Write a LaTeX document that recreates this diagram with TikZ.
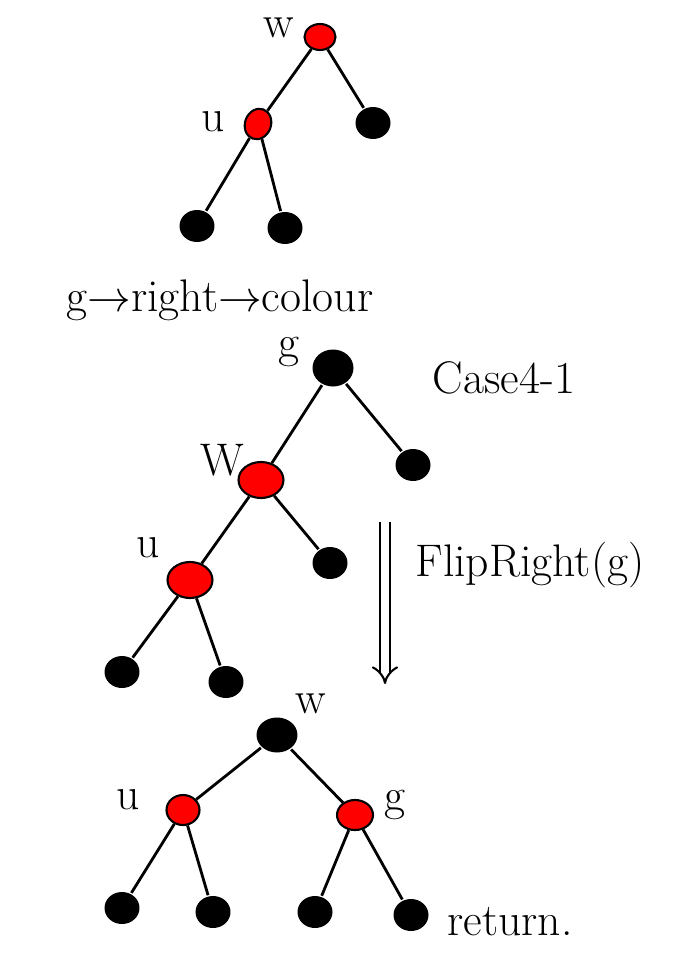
\documentclass[tikz,border=0pt]{standalone}
\usetikzlibrary{shapes.geometric,arrows.meta}

\tikzset{
  rednode/.style={ellipse, draw=black, line width=1.2pt, fill=red, inner sep=0pt,
    minimum width=0.62cm, minimum height=0.52cm},
  bigred/.style={rednode, minimum width=0.9cm, minimum height=0.72cm},
  leaf/.style={ellipse, fill=black, inner sep=0pt,
    minimum width=0.7cm, minimum height=0.64cm},
  lbl/.style={font=\fontsize{26}{30}\selectfont},
}

\begin{document}
\begin{tikzpicture}[x=0.02cm, y=-0.02cm, line width=1.6pt]
\useasboundingbox (0,0) rectangle (679,960);

% first tree
\node[rednode] (w1) at (320,37) {};
\node[rednode, rotate=70] (u1) at (258,124) {};
\node[leaf] (l1) at (373,123) {};
\node[leaf] (l2) at (197,226) {};
\node[leaf] (l3) at (285,228) {};
\node[lbl] (tw1) at (279,28) {w};
\node[lbl] (tu1) at (213,122) {u};

\draw (w1) -- (u1);
\draw (w1) -- (l1);
\draw (u1) -- (l2);
\draw (u1) -- (l3);

\node[lbl] (cond) at (220,300) {g$\to$right$\to$colour};

% second tree
\node[leaf, minimum width=0.82cm, minimum height=0.74cm] (g2) at (333,368) {};
\node[bigred] (w2) at (261,480) {};
\node[bigred] (u2) at (190,580) {};
\node[leaf] (l4) at (413,465) {};
\node[leaf] (l5) at (330,563) {};
\node[leaf] (l6) at (122,672) {};
\node[leaf] (l7) at (226,682) {};
\node[lbl] (tg2) at (289,352) {g};
\node[lbl] (tw2) at (222,460) {W};
\node[lbl] (tu2) at (148,548) {u};
\node[lbl] (case) at (504,378) {Case4-1};

\draw (g2) -- (w2);
\draw (g2) -- (l4);
\draw (w2) -- (u2);
\draw (w2) -- (l5);
\draw (u2) -- (l6);
\draw (u2) -- (l7);

% flip step
\coordinate (fa) at (385,522);
\coordinate (fb) at (385,684);
\draw[double, double distance=4pt, line width=1.2pt, -{Implies}] (fa) -- (fb);
\node[lbl] (flip) at (530,565) {FlipRight(g)};

% third tree
\node[leaf, minimum width=0.82cm, minimum height=0.7cm] (w3) at (277,735) {};
\node[rednode, minimum width=0.66cm, minimum height=0.6cm] (u3) at (183,810) {};
\node[rednode, minimum width=0.72cm, minimum height=0.6cm] (g3) at (355,815) {};
\node[leaf] (l8) at (122,908) {};
\node[leaf] (l9) at (213,912) {};
\node[leaf] (l10) at (315,912) {};
\node[leaf] (l11) at (411,915) {};
\node[lbl] (tw3) at (311,704) {w};
\node[lbl] (tu3) at (128,800) {u};
\node[lbl] (tg3) at (395,805) {g};
\node[lbl] (ret) at (510,922) {return.};

\draw (w3) -- (u3);
\draw (w3) -- (g3);
\draw (u3) -- (l8);
\draw (u3) -- (l9);
\draw (g3) -- (l10);
\draw (g3) -- (l11);

\end{tikzpicture}
\end{document}
